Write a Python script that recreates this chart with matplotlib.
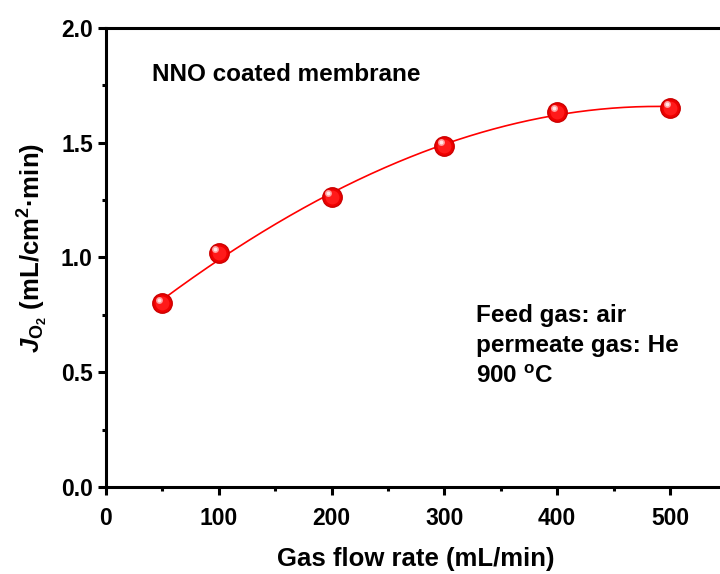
import numpy as np
import matplotlib
matplotlib.use('Agg')
import matplotlib.pyplot as plt
from matplotlib.ticker import MultipleLocator, FormatStrFormatter
from matplotlib.transforms import offset_copy

plt.rcParams['font.family'] = 'Liberation Sans'
plt.rcParams['font.weight'] = 'bold'
plt.rcParams['mathtext.fontset'] = 'custom'
plt.rcParams['mathtext.rm'] = 'Liberation Sans:bold'
plt.rcParams['mathtext.it'] = 'Liberation Sans:italic:bold'
plt.rcParams['mathtext.bf'] = 'Liberation Sans:bold'

flow_rate = [50, 100, 200, 300, 400, 500]
flux = [0.80, 1.02, 1.264, 1.487, 1.634, 1.653]

fig = plt.figure(figsize=(7.2, 5.74), dpi=100)
ax = fig.add_axes([0.1472, 0.1516, 0.8617, 0.7997])

# smooth fit line through the points
coef = np.polyfit(flow_rate, flux, 3)
xs = np.linspace(min(flow_rate), max(flow_rate), 300)
ax.plot(xs, np.polyval(coef, xs), color='red', lw=1.2, zorder=2)

# sphere-like markers
ax.plot(flow_rate, flux, 'o', ms=14, color='#ee0000', mec='#cc0000', mew=1, zorder=3)
ax.plot(flow_rate, flux, 'o', ms=10, color='#ff1a1a', mew=0, zorder=4)
hl = offset_copy(ax.transData, fig=fig, x=-2.5, y=2.5, units='points')
ax.plot(flow_rate, flux, 'o', ms=5, color='#ff9a9a', mew=0, zorder=5, transform=hl)
ax.plot(flow_rate, flux, 'o', ms=2.8, color='#ffe6e6', mew=0, zorder=6, transform=hl)

ax.set_xlim(0, 550)
ax.set_ylim(0, 2.0)
ax.xaxis.set_major_locator(MultipleLocator(100))
ax.xaxis.set_minor_locator(MultipleLocator(50))
ax.yaxis.set_major_locator(MultipleLocator(0.5))
ax.yaxis.set_minor_locator(MultipleLocator(0.25))
ax.yaxis.set_major_formatter(FormatStrFormatter('%.1f'))

for s in ax.spines.values():
    s.set_linewidth(2.2)
ax.tick_params(which='major', direction='out', length=5.5, width=2.2, labelsize=16.5)
ax.tick_params(axis='x', which='major', pad=9)
ax.tick_params(axis='y', which='major', pad=4)
ax.tick_params(which='minor', direction='out', length=3, width=2.2)

ax.set_xlabel('Gas flow rate (mL/min)', fontsize=18.5, fontweight='bold', labelpad=12)
ax.set_ylabel(r'$J_{\mathrm{O_2}}$ (mL/cm$^{\mathrm{2}}$·min)', fontsize=18.5, fontweight='bold')
ax.yaxis.set_label_coords(-0.09, 0.52)

ax.text(0.074, 0.898, 'NNO coated membrane', transform=ax.transAxes, fontsize=17.5,
        fontweight='bold', va='center')
ax.text(0.597, 0.398, 'Feed gas: air\npermeate gas: He\n900 $^{\\mathrm{o}}$C', transform=ax.transAxes,
        fontsize=17.5, fontweight='bold', va='top', linespacing=1.4)

fig.savefig('out.png', dpi=100)
